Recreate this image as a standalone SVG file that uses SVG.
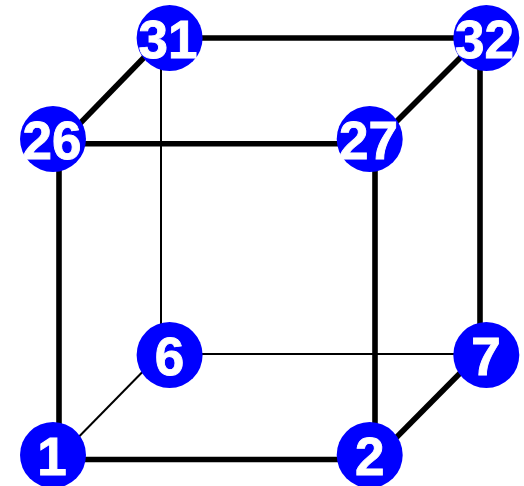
<svg xmlns="http://www.w3.org/2000/svg" width="524" height="486" viewBox="0 0 524 486">
<style>
.b{stroke:#000;stroke-width:5.6;fill:none}
.t{stroke:#000;stroke-width:2;fill:none}
circle{fill:#0000ff}
text{font-family:"Liberation Sans",Arial,sans-serif;font-weight:bold;font-size:53px;fill:#fff;stroke:#fff;stroke-width:0.9;text-anchor:middle}
</style>
<rect width="524" height="486" fill="#fff"/>
<g id="connectors">
<line class="b" x1="59" y1="139" x2="59" y2="455"/>
<line class="b" x1="375" y1="139" x2="375" y2="455"/>
<line class="b" x1="480" y1="38" x2="480" y2="355"/>
<line class="t" x1="161" y1="38" x2="161" y2="355"/>
<line class="b" x1="170" y1="38" x2="486" y2="38"/>
<line class="b" x1="53" y1="143.7" x2="370" y2="143.7"/>
<line class="t" x1="170" y1="354" x2="486" y2="354"/>
<line class="b" x1="53" y1="459.5" x2="370" y2="459.5"/>
<line class="b" x1="61" y1="143" x2="160" y2="41"/>
<line class="t" x1="60" y1="456" x2="162" y2="352"/>
<line class="b" x1="377" y1="457" x2="480" y2="353"/>
<line class="b" x1="377" y1="141" x2="480" y2="38"/>
</g>
<g id="n31"><circle cx="169.6" cy="38" r="33"/><text x="168" y="58">31</text></g>
<g id="n32"><circle cx="486.3" cy="38" r="33"/><text x="484.5" y="58">32</text></g>
<g id="n26"><circle cx="53" cy="139" r="33"/><text x="52" y="159">26</text></g>
<g id="n27"><circle cx="369.7" cy="139" r="33"/><text x="368.5" y="159">27</text></g>
<g id="n6"><circle cx="169.6" cy="355" r="33"/><text x="169.6" y="375">6</text></g>
<g id="n7"><circle cx="486.3" cy="355" r="33"/><text x="486" y="375">7</text></g>
<g id="n1"><circle cx="53" cy="455" r="33"/><text x="52" y="475">1</text></g>
<g id="n2"><circle cx="369.7" cy="455" r="33"/><text x="369.7" y="475">2</text></g>
</svg>
